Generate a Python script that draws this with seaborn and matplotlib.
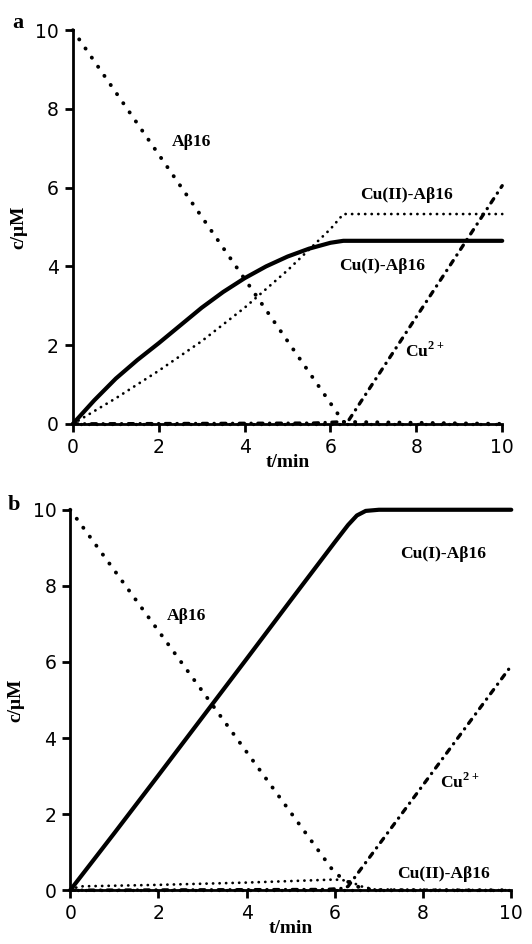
import numpy as np
import matplotlib
matplotlib.use("Agg")
import matplotlib.pyplot as plt
import seaborn as sns

# panel a
t_ab_a = [0, 6.3, 10]
ab_a = [10, 0.05, 0]
t_cu1_a = [0, 0.5, 1, 1.5, 2, 2.5, 3, 3.5, 4, 4.5, 5, 5.5, 6, 6.3, 10]
cu1_a = [0, 0.6, 1.15, 1.62, 2.05, 2.5, 2.95, 3.35, 3.7, 4.0, 4.25, 4.45, 4.6, 4.65, 4.65]
t_cu2ab_a = [0, 1, 2, 3, 4, 5, 6, 6.3, 10]
cu2ab_a = [0, 0.65, 1.35, 2.1, 2.95, 3.9, 4.95, 5.33, 5.33]
t_cu2_a = [0, 5.6, 6.2, 6.4, 10]
cu2_a = [0, 0.02, 0.05, 0.05, 6.05]
t_base_a = [0, 10]
base_a = [0, 0]

# panel b
t_ab_b = [0, 6.0, 6.3, 6.6, 7.0, 10]
ab_b = [10, 0.45, 0.22, 0.05, 0, 0]
t_cu1_b = [0, 1, 2, 3, 4, 5, 6, 6.3, 6.5, 6.7, 7.0, 10]
cu1_b = [0, 1.5, 3.02, 4.55, 6.08, 7.62, 9.15, 9.6, 9.85, 9.97, 10, 10]
t_cu2ab_b = [0, 0.2, 2, 4, 6.0, 6.3, 6.6, 6.9, 10]
cu2ab_b = [0, 0.1, 0.14, 0.2, 0.28, 0.25, 0.1, 0.02, 0]
t_cu2_b = [0, 5.8, 6.2, 6.3, 10]
cu2_b = [0, 0.02, 0.05, 0.1, 5.9]
t_base_b = [0, 10]
base_b = [0, 0]

ticks = [0, 2, 4, 6, 8, 10]

SERIF = "Liberation Serif"
DOT = (0, (0.05, 2.8))
FINE = (0, (0.05, 2.3))
DASHDOT = (0, (1.5, 2.0, 0.05, 2.0))


def style_axes(ax):
    ax.set_xlim(0, 10)
    ax.set_ylim(0, 10)
    ax.set_xticks(ticks)
    ax.set_yticks(ticks)
    sns.despine(ax=ax)
    for s in ["left", "bottom"]:
        ax.spines[s].set_linewidth(2)
        ax.spines[s].set_color("black")
    ax.tick_params(direction="out", length=6, width=2, labelsize=13.5, pad=4,
                   color="black", labelcolor="black")
    ax.set_xlabel("t/min", family=SERIF, fontweight="bold", fontsize=14, labelpad=-2)
    ax.set_ylabel("c/\u03bcM", family=SERIF, fontweight="bold", fontsize=14, labelpad=6)


def draw(ax, series):
    for x, y, ls, lw in series:
        sns.lineplot(x=x, y=y, ax=ax, color="black", linestyle=ls, linewidth=lw,
                     dash_capstyle="round", solid_capstyle="round", clip_on=False)


sns.set_style("ticks")
plt.rcParams["font.family"] = ["DejaVu Sans"]
plt.rcParams["text.color"] = "black"
plt.rcParams["axes.labelcolor"] = "black"
plt.rcParams["mathtext.fontset"] = "custom"
plt.rcParams["mathtext.rm"] = "Liberation Serif:bold"
plt.rcParams["mathtext.bf"] = "Liberation Serif:bold"

fig = plt.figure(figsize=(5.32, 9.44), dpi=100)
ax1 = fig.add_axes([0.137, 0.551, 0.807, 0.417])
ax2 = fig.add_axes([0.132, 0.057, 0.829, 0.403])

draw(ax1, [
    (t_base_a, base_a, FINE, 2.4),
    (t_ab_a, ab_a, DOT, 2.8),
    (t_cu2ab_a, cu2ab_a, FINE, 2.0),
    (t_cu2_a, cu2_a, DASHDOT, 2.4),
    (t_cu1_a, cu1_a, "-", 3.0),
])
style_axes(ax1)

tkw = dict(family=SERIF, fontweight="bold", fontsize=12.6, color="black")
ax1.text(2.77, 7.16, "A\u03b216", ha="center", va="center", **tkw)
ax1.text(6.69, 5.81, "Cu(II)-A\u03b216", ha="left", va="center", **tkw)
ax1.text(6.2, 4.01, "Cu(I)-A\u03b216", ha="left", va="center", **tkw)
ax1.text(7.74, 1.85, "Cu$^{\\mathrm{2+}}$", ha="left", va="center", **tkw)

draw(ax2, [
    (t_base_b, base_b, FINE, 2.4),
    (t_ab_b, ab_b, DOT, 2.8),
    (t_cu2ab_b, cu2ab_b, FINE, 2.0),
    (t_cu2_b, cu2_b, DASHDOT, 2.4),
    (t_cu1_b, cu1_b, "-", 3.0),
])
style_axes(ax2)

ax2.text(2.63, 7.2, "A\u03b216", ha="center", va="center", **tkw)
ax2.text(7.48, 8.84, "Cu(I)-A\u03b216", ha="left", va="center", **tkw)
ax2.text(8.39, 2.85, "Cu$^{\\mathrm{2+}}$", ha="left", va="center", **tkw)
ax2.text(7.41, 0.42, "Cu(II)-A\u03b216", ha="left", va="center", **tkw)

fig.text(0.023, 0.976, "a", family=SERIF, fontweight="bold", fontsize=16, va="center")
fig.text(0.015, 0.465, "b", family=SERIF, fontweight="bold", fontsize=16, va="center")

fig.savefig("out.png", dpi=100)
